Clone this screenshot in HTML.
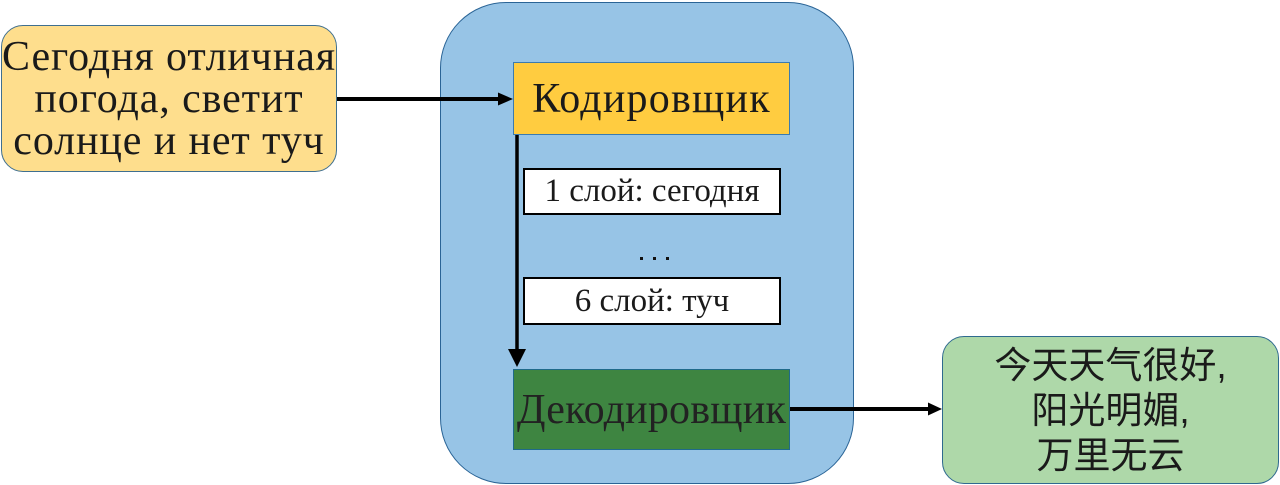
<!DOCTYPE html>
<html><head><meta charset="utf-8"><style>
html,body{margin:0;padding:0;background:#fff;}
body{width:1280px;height:485px;position:relative;overflow:hidden;font-family:"Liberation Serif",serif;}
.a{position:absolute;box-sizing:border-box;}
.t{display:flex;align-items:center;justify-content:center;text-align:center;color:#1a1a1a;white-space:nowrap;}
</style></head><body>
<div class="a t" style="left:1px;top:25px;width:336px;height:147px;background:#FEDE8D;border:1.5px solid #3f6f8f;border-radius:22px;font-size:42px;line-height:42px;letter-spacing:0.9px;">Сегодня отличная<br>погода, светит<br>солнце и нет туч</div>

<div class="a" style="left:440px;top:2px;width:414px;height:482px;background:#97C4E6;border:1.5px solid #2A6496;border-radius:66px;"></div>

<div class="a t" style="left:513px;top:62px;width:277px;height:73px;background:#FFCC40;border:1px solid #3b7bb0;font-size:42px;letter-spacing:1.2px;">Кодировщик</div>

<div class="a t" style="left:523px;top:168px;width:258px;height:47px;background:#fff;border:2px solid #000;font-size:33px;">1 слой: сегодня</div>

<div class="a" style="left:640px;top:257px;width:3px;height:3px;background:#111;"></div>
<div class="a" style="left:653px;top:257px;width:3px;height:3px;background:#111;"></div>
<div class="a" style="left:666px;top:257px;width:3px;height:3px;background:#111;"></div>

<div class="a t" style="left:523px;top:277px;width:258px;height:48px;background:#fff;border:2px solid #000;font-size:33px;">6 слой: туч</div>

<div class="a t" style="left:513px;top:369px;width:277px;height:81px;background:#3E8541;border:1.5px solid #1f6a8a;font-size:42px;letter-spacing:0.2px;color:#222;">Декодировщик</div>

<div class="a t" style="left:942px;top:336px;width:337px;height:148px;background:#AED8A9;border:1.5px solid #2f6a8f;border-radius:22px;font-family:'Liberation Sans','Noto Sans CJK SC',sans-serif;font-size:37px;line-height:45px;">今天天气很好,<br>阳光明媚,<br>万里无云</div>

<svg class="a" style="left:0;top:0" width="1280" height="485">
<line x1="337" y1="99" x2="500" y2="99" stroke="#000" stroke-width="4"/>
<polygon points="498,92.5 513,99 498,105.5" fill="#000"/>
<line x1="517" y1="135" x2="517" y2="352" stroke="#000" stroke-width="3.5"/>
<polygon points="508,349 526,349 517,367" fill="#000"/>
<line x1="790" y1="409" x2="930" y2="409" stroke="#000" stroke-width="4"/>
<polygon points="928,402.5 942,409 928,415.5" fill="#000"/>
</svg>
</body></html>
